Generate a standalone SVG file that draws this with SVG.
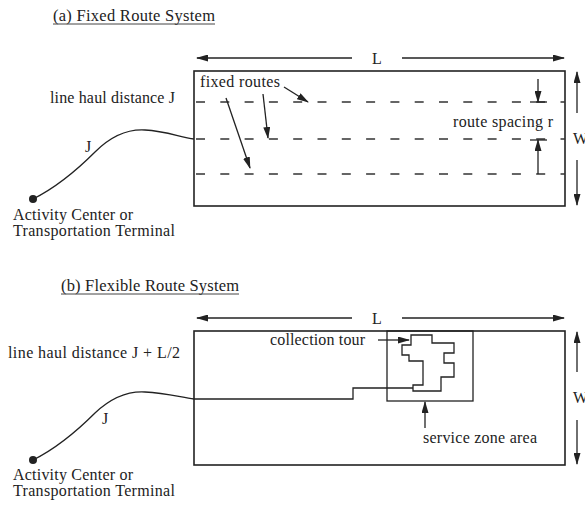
<svg xmlns="http://www.w3.org/2000/svg" width="585" height="506" viewBox="0 0 585 506">
  <style>
    .t { font-family: "Liberation Serif", "Times New Roman", serif; font-size: 16px; fill: #222; }
    .ttl { font-size: 16.5px; }
    .box { fill: none; stroke: #222; stroke-width: 1.6; }
    .ln { fill: none; stroke: #222; stroke-width: 1.3; }
    .dash { fill: none; stroke: #333; stroke-width: 1.6; stroke-dasharray: 9 15.3; }
    .arr { fill: none; stroke: #222; stroke-width: 1.3; marker-end: url(#ah); }
  </style>
  <defs>
    <marker id="ah" markerUnits="userSpaceOnUse" markerWidth="12" markerHeight="7" refX="11" refY="3.5" orient="auto">
      <path d="M0,0 L12,3.5 L0,7 Z" fill="#222"/>
    </marker>
  </defs>
  <rect width="585" height="506" fill="#fff"/>

  <!-- Panel (a) -->
  <g id="title-a">
    <text class="t ttl" x="53" y="21" textLength="162">(a) Fixed Route System</text>
    <line x1="53" y1="24" x2="215" y2="24" stroke="#444" stroke-width="1"/>
  </g>
  <g id="zone-a">
    <rect class="box" x="194" y="71" width="371" height="135"/>
    <line class="dash" x1="196" y1="102" x2="565" y2="102"/>
    <line class="dash" x1="196" y1="139" x2="565" y2="139"/>
    <line class="dash" x1="196" y1="174" x2="565" y2="174"/>
  </g>
  <g id="terminal-a">
    <circle cx="33" cy="199" r="4" fill="#222"/>
    <text class="t" x="13" y="220" textLength="120">Activity Center or</text>
    <text class="t" x="13" y="236" textLength="162">Transportation Terminal</text>
  </g>
  <g id="labels-a">
    <text class="t" x="50" y="103" textLength="125">line haul distance J</text>
    <text class="t" x="85" y="152">J</text>
    <text class="t" x="200" y="87" textLength="80">fixed routes</text>
    <text class="t" x="453" y="127" textLength="100">route spacing r</text>
    <text class="t" x="372" y="64">L</text>
    <text class="t" x="573" y="144">W</text>
  </g>
  <g id="connectors-a">
    <path class="ln" d="M33,199 C55,188 75,172 95,152 C112,135 128,129 145,130 C165,131 180,137 194,139"/>
    <line class="arr" x1="352" y1="58" x2="197" y2="58"/>
    <line class="arr" x1="402" y1="58" x2="564" y2="58"/>
    <line class="arr" x1="577" y1="113" x2="577" y2="72"/>
    <line class="arr" x1="577" y1="160" x2="577" y2="205"/>
    <line class="arr" x1="284" y1="87" x2="308" y2="102"/>
    <line class="arr" x1="263" y1="94" x2="268" y2="138"/>
    <line class="arr" x1="226" y1="98" x2="250" y2="168"/>
    <line class="arr" x1="538" y1="79" x2="538" y2="102"/>
    <line class="ln" x1="530" y1="102" x2="547" y2="102"/>
    <line class="arr" x1="538" y1="174" x2="538" y2="140"/>
    <line class="ln" x1="530" y1="140" x2="547" y2="140"/>
  </g>

  <!-- Panel (b) -->
  <g id="title-b">
    <text class="t ttl" x="61" y="291" textLength="178">(b) Flexible Route System</text>
    <line x1="61" y1="294" x2="239" y2="294" stroke="#444" stroke-width="1"/>
  </g>
  <g id="zone-b">
    <rect class="box" x="194" y="331" width="371" height="134"/>
    <rect class="ln" x="387" y="331" width="86" height="70"/>
    <path class="ln" d="M411,335 H432 V343 H454 V353 H444 V363 H454 V377 H441 V391 H413 V385 H423 V361 H409 V355 H402 V345 H411 Z"/>
  </g>
  <g id="terminal-b">
    <circle cx="33" cy="460" r="4" fill="#222"/>
    <text class="t" x="13" y="480" textLength="120">Activity Center or</text>
    <text class="t" x="13" y="496" textLength="162">Transportation Terminal</text>
  </g>
  <g id="labels-b">
    <text class="t" x="8" y="358" textLength="172">line haul distance J + L/2</text>
    <text class="t" x="102" y="424">J</text>
    <text class="t" x="270" y="345" textLength="95">collection tour</text>
    <text class="t" x="423" y="443" textLength="114">service zone area</text>
    <text class="t" x="372" y="324">L</text>
    <text class="t" x="573" y="403">W</text>
  </g>
  <g id="connectors-b">
    <path class="ln" d="M33,460 C55,449 75,433 95,413 C112,397 128,391 145,392 C165,393 180,397 194,399"/>
    <path class="ln" d="M194,399 H353 V388 H413"/>
    <line class="arr" x1="352" y1="318" x2="197" y2="318"/>
    <line class="arr" x1="402" y1="318" x2="564" y2="318"/>
    <line class="arr" x1="577" y1="372" x2="577" y2="332"/>
    <line class="arr" x1="577" y1="420" x2="577" y2="464"/>
    <line class="arr" x1="378" y1="340" x2="409" y2="340"/>
    <line class="arr" x1="425" y1="428" x2="425" y2="402"/>
  </g>
</svg>
